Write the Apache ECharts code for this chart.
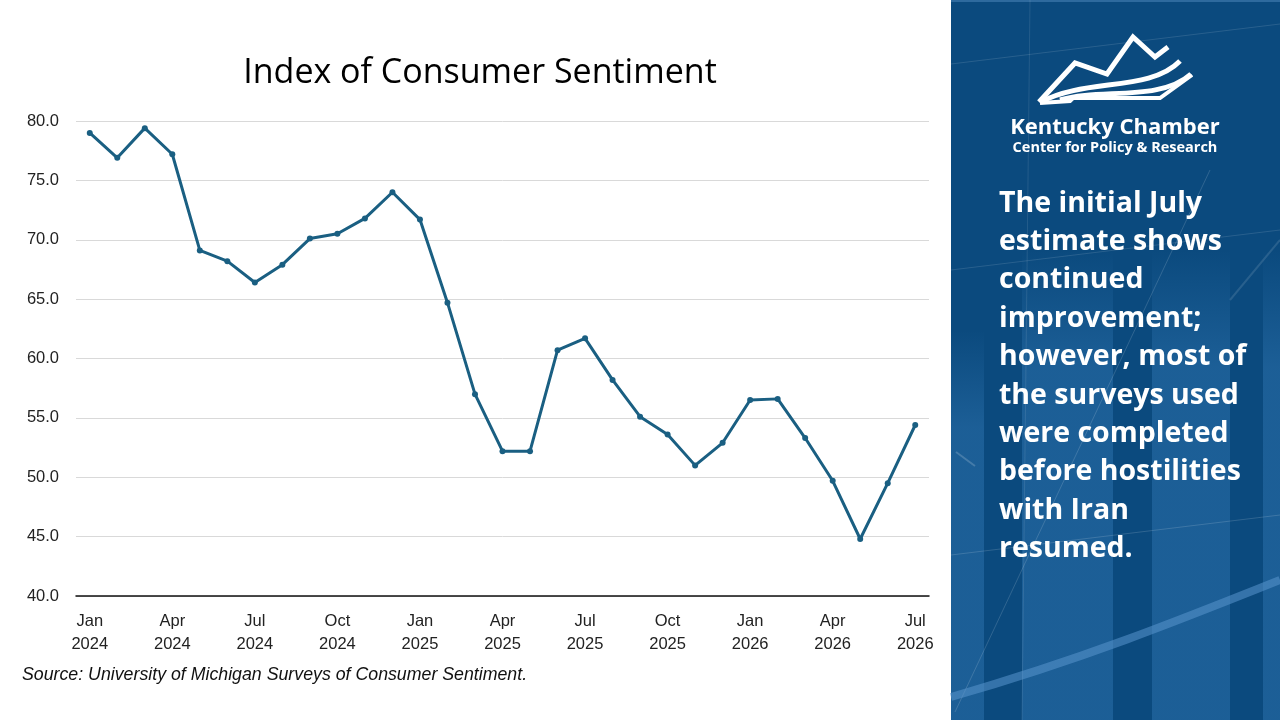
<!DOCTYPE html>
<html>
<head>
<meta charset="utf-8">
<script src="https://cdn.jsdelivr.net/npm/echarts@6/dist/echarts.min.js"></script>
<style>
	html, body {margin: 0; padding: 0; background: #fff;}
	#chart {width: 1280px; height: 720px;}
</style>
</head>
<body>
<div id="chart"></div>
<script>
//月份标签
var categories = [
	'Jan\n2024', 'Feb\n2024', 'Mar\n2024', 'Apr\n2024', 'May\n2024', 'Jun\n2024',
	'Jul\n2024', 'Aug\n2024', 'Sep\n2024', 'Oct\n2024', 'Nov\n2024', 'Dec\n2024',
	'Jan\n2025', 'Feb\n2025', 'Mar\n2025', 'Apr\n2025', 'May\n2025', 'Jun\n2025',
	'Jul\n2025', 'Aug\n2025', 'Sep\n2025', 'Oct\n2025', 'Nov\n2025', 'Dec\n2025',
	'Jan\n2026', 'Feb\n2026', 'Mar\n2026', 'Apr\n2026', 'May\n2026', 'Jun\n2026',
	'Jul\n2026'
]
//指数数值
var sentiment = [
	79.0, 76.9, 79.4, 77.2, 69.1, 68.2, 66.4, 67.9, 70.1, 70.5, 71.8, 74.0,
	71.7, 64.7, 57.0, 52.2, 52.2, 60.7, 61.7, 58.2, 55.1, 53.6, 51.0, 52.9,
	56.5, 56.6, 53.3, 49.7, 44.8, 49.5, 54.4
]
var yTicks = {min: 40, max: 80, step: 5}

var titleText = 'Index of Consumer Sentiment'
var sourceText = 'Source: University of Michigan Surveys of Consumer Sentiment.'
var brandName = 'Kentucky Chamber'
var brandSub = 'Center for Policy & Research'
var noteLines = [
	'The initial July',
	'estimate shows',
	'continued',
	'improvement;',
	'however, most of',
	'the surveys used',
	'were completed',
	'before hostilities',
	'with Iran',
	'resumed.'
]

var chart = echarts.init(document.getElementById('chart'))

//竖条渐变
function bandFill(a) {
	return new echarts.graphic.LinearGradient(0, 0, 0, 1, [
		{offset: 0, color: 'rgba(45,115,175,0)'},
		{offset: 0.25, color: 'rgba(45,115,175,' + a + ')'},
		{offset: 1, color: 'rgba(45,115,175,' + a + ')'}
	])
}

//右侧蓝色面板
var panel = [
	{type: 'rect', shape: {x: 951, y: 0, width: 329, height: 720}, style: {fill: '#0b4a7e'}, z: 1},
	{type: 'rect', shape: {x: 951, y: 0, width: 329, height: 2}, style: {fill: '#2e6a9e'}, z: 2},
	//浅色竖条
	{type: 'rect', shape: {x: 951, y: 330, width: 33, height: 390}, style: {fill: bandFill(0.5)}, z: 2},
	{type: 'rect', shape: {x: 1022, y: 250, width: 91, height: 470}, style: {fill: bandFill(0.5)}, z: 2},
	{type: 'rect', shape: {x: 1152, y: 250, width: 78, height: 470}, style: {fill: bandFill(0.5)}, z: 2},
	{type: 'rect', shape: {x: 1263, y: 250, width: 17, height: 470}, style: {fill: bandFill(0.5)}, z: 2},
	//细线
	{type: 'line', shape: {x1: 951, y1: 64, x2: 1280, y2: 24}, style: {stroke: 'rgba(255,255,255,0.12)', lineWidth: 1}, z: 3},
	{type: 'line', shape: {x1: 951, y1: 270, x2: 1280, y2: 230}, style: {stroke: 'rgba(255,255,255,0.12)', lineWidth: 1}, z: 3},
	{type: 'line', shape: {x1: 951, y1: 555, x2: 1280, y2: 515}, style: {stroke: 'rgba(255,255,255,0.15)', lineWidth: 1}, z: 3},
	{type: 'line', shape: {x1: 1030, y1: 0, x2: 1022, y2: 720}, style: {stroke: 'rgba(255,255,255,0.10)', lineWidth: 1}, z: 3},
	{type: 'line', shape: {x1: 955, y1: 712, x2: 1210, y2: 170}, style: {stroke: 'rgba(255,255,255,0.15)', lineWidth: 1}, z: 3},
	{type: 'line', shape: {x1: 1230, y1: 300, x2: 1280, y2: 240}, style: {stroke: 'rgba(255,255,255,0.12)', lineWidth: 2}, z: 3},
	{type: 'line', shape: {x1: 956, y1: 452, x2: 975, y2: 466}, style: {stroke: 'rgba(255,255,255,0.18)', lineWidth: 2}, z: 3},
	//底部弧线
	{type: 'bezierCurve', shape: {x1: 951, y1: 697, x2: 1280, y2: 580, cpx1: 1080, cpy1: 660, cpx2: 1180, cpy2: 620},
		style: {stroke: 'rgba(90,150,205,0.55)', lineWidth: 8, fill: null}, z: 3},
	//标志
	{type: 'polyline', shape: {points: [[1039, 102], [1075, 63], [1107, 74], [1133, 37], [1155, 57], [1168, 47]]},
		style: {stroke: '#fff', lineWidth: 5, fill: null, lineJoin: 'miter'}, z: 4},
	{type: 'bezierCurve', shape: {x1: 1041, y1: 102, x2: 1180, y2: 61, cpx1: 1085, cpy1: 78, cpx2: 1150, cpy2: 92},
		style: {stroke: '#fff', lineWidth: 5, fill: null}, z: 4},
	{type: 'bezierCurve', shape: {x1: 1060, y1: 100, x2: 1191, y2: 74, cpx1: 1100, cpy1: 88, cpx2: 1160, cpy2: 102},
		style: {stroke: '#fff', lineWidth: 5, fill: null}, z: 4},
	{type: 'polyline', shape: {points: [[1040, 103], [1070, 101], [1073, 98], [1160, 98], [1192, 75]]},
		style: {stroke: '#fff', lineWidth: 4, fill: null}, z: 4},
	{type: 'text', x: 1115, y: 117, style: {text: brandName, fill: '#fff', font: 'bold 22px "Open Sans"', align: 'center'}, z: 4},
	{type: 'text', x: 1115, y: 140, style: {text: brandSub, fill: '#fff', font: 'bold 14.5px "Open Sans"', align: 'center'}, z: 4}
]

//说明文字逐行放置
for (var i = 0; i < noteLines.length; i++) {
	panel.push({
		type: 'text', x: 999, y: 189 + i * 38.4, z: 4,
		style: {text: noteLines[i], fill: '#fff', font: 'bold 28.5px "Open Sans"'}
	})
}

panel.push({
	type: 'text', left: 22, top: 666,
	style: {text: sourceText, fill: '#111', font: 'italic 17.75px "Liberation Sans"'}
})

chart.setOption({
	animation: false,
	title: {
		text: titleText, left: 475, top: 51, textAlign: 'center',
		textStyle: {fontSize: 34, fontWeight: 'normal', color: '#000', fontFamily: 'Open Sans'}
	},
	grid: {left: 76, right: 351, top: 121, bottom: 124},
	xAxis: {
		type: 'category', data: categories, boundaryGap: true,
		axisLine: {lineStyle: {color: '#111', width: 1.5}},
		axisTick: {show: false},
		axisLabel: {interval: 2, color: '#222', fontSize: 16.5, lineHeight: 23, margin: 14, fontFamily: 'Liberation Sans'}
	},
	yAxis: {
		type: 'value', min: yTicks.min, max: yTicks.max, interval: yTicks.step,
		axisLine: {show: false}, axisTick: {show: false},
		splitLine: {lineStyle: {color: '#d9d9d9', width: 1}},
		axisLabel: {
			color: '#222', fontSize: 16.5, margin: 17, fontFamily: 'Liberation Sans',
			formatter: function(v) { return v.toFixed(1) }
		}
	},
	series: [{
		type: 'line', data: sentiment,
		symbol: 'circle', symbolSize: 6,
		lineStyle: {color: '#1a5f82', width: 3},
		itemStyle: {color: '#1a5f82'}
	}],
	graphic: panel
})
</script>
</body>
</html>
